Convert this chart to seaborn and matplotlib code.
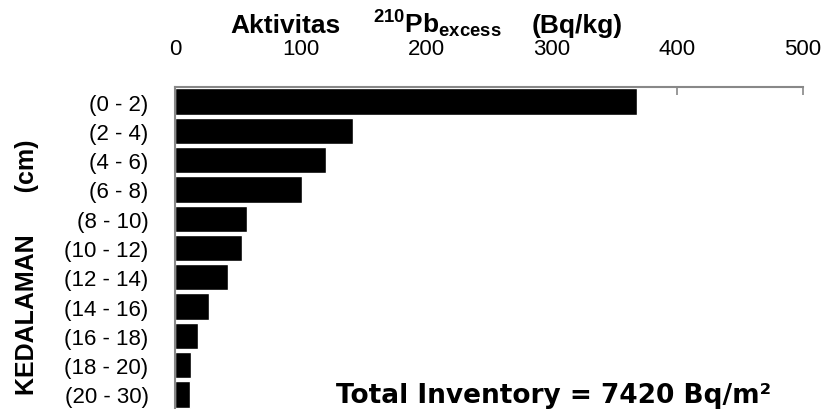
import matplotlib
matplotlib.use("Agg")
import matplotlib.pyplot as plt
import seaborn as sns
import pandas as pd
import numpy as np

# Depth intervals and excess 210Pb activity per layer
depths = ["(0 - 2)", "(2 - 4)", "(4 - 6)", "(6 - 8)", "(8 - 10)", "(10 - 12)",
          "(12 - 14)", "(14 - 16)", "(16 - 18)", "(18 - 20)", "(20 - 30)"]
activity = [368, 142, 120, 101, 57, 53, 42, 27, 18, 13, 12]
total_inventory = 7420

df = pd.DataFrame({"depth": depths, "activity": activity})

sns.set_theme(style="white")
plt.rcParams["font.family"] = ["Liberation Sans", "DejaVu Sans"]
plt.rcParams["text.color"] = "black"
plt.rcParams["mathtext.fontset"] = "custom"
plt.rcParams["mathtext.rm"] = "Liberation Sans:bold"
plt.rcParams["mathtext.it"] = "Liberation Sans:bold"
plt.rcParams["mathtext.bf"] = "Liberation Sans:bold"
plt.rcParams["mathtext.default"] = "bf"

fig = plt.figure(figsize=(8.22, 4.10), dpi=100)
ax = fig.add_axes([175 / 822, 0.0, 628 / 822, 1 - 88 / 410])

sns.barplot(data=df, x="activity", y="depth", orient="h", color="black",
            saturation=1, width=0.9, ax=ax)

ax.set_xlim(0, 500)
ax.set_ylim(len(depths) - 0.5, -0.5)
ax.xaxis.tick_top()
ax.set_xticks(np.arange(0, 501, 100))
ax.tick_params(axis="x", direction="in", length=6, width=1.2, color="#888888",
               pad=20, labelsize=16, labelcolor="black")
ax.set_yticks(np.arange(len(depths)))
ax.set_yticklabels(depths)
ax.set_yticks(np.arange(-0.5, len(depths), 1.0), minor=True)
ax.tick_params(axis="y", which="major", length=0, pad=19, labelsize=16,
               labelcolor="black")
ax.tick_params(axis="y", which="minor", direction="out", length=7, width=1.5,
               color="#888888")
ax.set_xlabel("")
ax.set_ylabel("")

for side in ["bottom", "right"]:
    ax.spines[side].set_visible(False)
for side in ["top", "left"]:
    ax.spines[side].set_color("#888888")
    ax.spines[side].set_linewidth(1.5)

# Axis title pieces along the top
title_y = 1 - 33 / 410
fig.text(230 / 822, title_y, "Aktivitas", ha="left", va="baseline",
         fontsize=19, fontweight="bold")
fig.text(373 / 822, title_y, r"$^{210}$Pb$_{excess}$", ha="left", va="baseline",
         fontsize=19, fontweight="bold")
fig.text(532 / 822, title_y, "(Bq/kg)", ha="left", va="baseline",
         fontsize=19, fontweight="bold")

fig.text(27 / 822, 1 - 267 / 410, "KEDALAMAN      (cm)", rotation=90,
         ha="center", va="center", fontsize=18, fontweight="bold")
fig.text(554 / 822, 1 - 396 / 410, f"Total Inventory = {total_inventory} Bq/m²",
         ha="center", va="center", fontsize=19, fontweight="heavy",
         family=["DejaVu Sans"])

fig.savefig("out.png", dpi=100)
